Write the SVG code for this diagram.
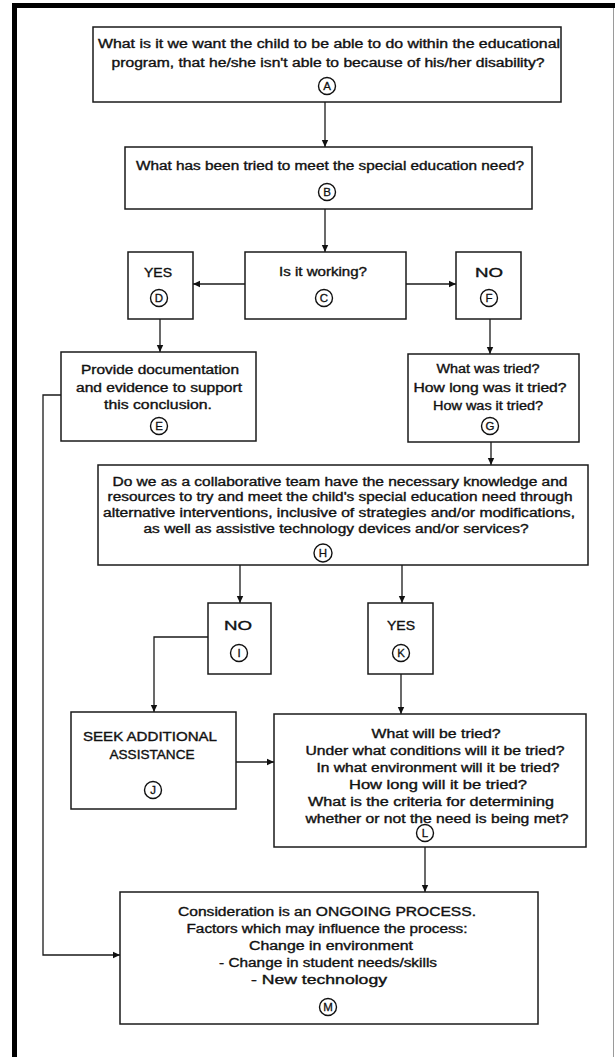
<svg xmlns="http://www.w3.org/2000/svg" width="615" height="1057" viewBox="0 0 615 1057">
  <defs>
    <style>
      .box { fill: #fff; stroke: #1a1a1a; stroke-width: 1.5; }
      .txt { font-family: "Liberation Sans", Arial, sans-serif; font-size: 12px; fill: #111; stroke: #111; stroke-width: 0.35; text-anchor: middle; }
      .lbl { font-family: "Liberation Sans", Arial, sans-serif; font-size: 11.5px; fill: #111; stroke: #111; stroke-width: 0.3; text-anchor: middle; }
      .ring { fill: none; stroke: #111; stroke-width: 1.4; }
      .wire { fill: none; stroke: #1a1a1a; stroke-width: 1.3; }
    </style>
    <marker id="arrow" markerWidth="8" markerHeight="8" refX="7" refY="4" orient="auto" markerUnits="userSpaceOnUse">
      <path d="M0,0.8 L7,4 L0,7.2 Z" fill="#111"/>
    </marker>
  </defs>

  <!-- page frame -->
  <rect x="0" y="0" width="615" height="1057" fill="#fff"/>
  <rect x="12" y="3" width="5" height="1054" fill="#000"/>
  <rect x="12" y="3" width="603" height="5" fill="#000"/>
  <line x1="613.5" y1="8" x2="613.5" y2="1057" stroke="#9a9a9a" stroke-width="1"/>

  <!-- connectors -->
  <g id="connectors">
    <line class="wire" x1="325" y1="102" x2="325" y2="147" marker-end="url(#arrow)"/>
    <line class="wire" x1="325" y1="209" x2="325" y2="252" marker-end="url(#arrow)"/>
    <line class="wire" x1="245" y1="284" x2="193" y2="284" marker-end="url(#arrow)"/>
    <line class="wire" x1="406" y1="284" x2="456" y2="284" marker-end="url(#arrow)"/>
    <line class="wire" x1="160" y1="319" x2="160" y2="352" marker-end="url(#arrow)"/>
    <line class="wire" x1="490" y1="319" x2="490" y2="354" marker-end="url(#arrow)"/>
    <line class="wire" x1="491" y1="442" x2="491" y2="465" marker-end="url(#arrow)"/>
    <polyline class="wire" points="61,395 43,395 43,955 120,955" marker-end="url(#arrow)"/>
    <line class="wire" x1="240" y1="565" x2="240" y2="603" marker-end="url(#arrow)"/>
    <line class="wire" x1="402" y1="565" x2="402" y2="603" marker-end="url(#arrow)"/>
    <polyline class="wire" points="208,637 154,637 154,712" marker-end="url(#arrow)"/>
    <line class="wire" x1="236" y1="762" x2="274" y2="762" marker-end="url(#arrow)"/>
    <line class="wire" x1="401" y1="674" x2="401" y2="714" marker-end="url(#arrow)"/>
    <line class="wire" x1="425" y1="847" x2="425" y2="892" marker-end="url(#arrow)"/>
  </g>

  <g id="node-a">
    <rect class="box" x="93" y="27" width="468" height="75"/>
    <text class="txt" x="329" y="48" textLength="462" lengthAdjust="spacingAndGlyphs">What is it we want the child to be able to do within the educational</text>
    <text class="txt" x="328" y="67" textLength="433" lengthAdjust="spacingAndGlyphs">program, that he/she isn't able to because of his/her disability?</text>
    <circle class="ring" cx="327" cy="86" r="8.5"/>
    <text class="lbl" x="327" y="90">A</text>
  </g>

  <g id="node-b">
    <rect class="box" x="125" y="147" width="407" height="62"/>
    <text class="txt" x="330" y="170" textLength="388" lengthAdjust="spacingAndGlyphs">What has been tried to meet the special education need?</text>
    <circle class="ring" cx="327" cy="192" r="8.5"/>
    <text class="lbl" x="327" y="196">B</text>
  </g>

  <g id="node-c">
    <rect class="box" x="245" y="252" width="161" height="67"/>
    <text class="txt" x="323" y="276" textLength="88" lengthAdjust="spacingAndGlyphs">Is it working?</text>
    <circle class="ring" cx="324" cy="298" r="8.5"/>
    <text class="lbl" x="324" y="302">C</text>
  </g>

  <g id="node-d">
    <rect class="box" x="128" y="252" width="65" height="67"/>
    <text class="txt" x="158" y="277" textLength="28" lengthAdjust="spacingAndGlyphs">YES</text>
    <circle class="ring" cx="159" cy="298" r="8.5"/>
    <text class="lbl" x="159" y="302">D</text>
  </g>

  <g id="node-f">
    <rect class="box" x="456" y="252" width="65" height="67"/>
    <text class="txt" x="489" y="277" textLength="28" lengthAdjust="spacingAndGlyphs">NO</text>
    <circle class="ring" cx="489" cy="298" r="8.5"/>
    <text class="lbl" x="489" y="302">F</text>
  </g>

  <g id="node-e">
    <rect class="box" x="61" y="352" width="195" height="89"/>
    <text class="txt" x="160" y="374" textLength="158" lengthAdjust="spacingAndGlyphs">Provide documentation</text>
    <text class="txt" x="159" y="392" textLength="166" lengthAdjust="spacingAndGlyphs">and evidence to support</text>
    <text class="txt" x="158" y="409" textLength="108" lengthAdjust="spacingAndGlyphs">this conclusion.</text>
    <circle class="ring" cx="159" cy="426" r="8.5"/>
    <text class="lbl" x="159" y="430">E</text>
  </g>

  <g id="node-g">
    <rect class="box" x="408" y="354" width="171" height="88"/>
    <text class="txt" x="488" y="373" textLength="103" lengthAdjust="spacingAndGlyphs">What was tried?</text>
    <text class="txt" x="490" y="392" textLength="153" lengthAdjust="spacingAndGlyphs">How long was it tried?</text>
    <text class="txt" x="488" y="410" textLength="110" lengthAdjust="spacingAndGlyphs">How was it tried?</text>
    <circle class="ring" cx="490" cy="426" r="8.5"/>
    <text class="lbl" x="490" y="430">G</text>
  </g>

  <g id="node-h">
    <rect class="box" x="98" y="465" width="490" height="100"/>
    <text class="txt" x="340" y="486" textLength="455" lengthAdjust="spacingAndGlyphs">Do we as a collaborative team have the necessary knowledge and</text>
    <text class="txt" x="340" y="501" textLength="465" lengthAdjust="spacingAndGlyphs">resources to try and meet the child's special education need through</text>
    <text class="txt" x="339" y="517" textLength="472" lengthAdjust="spacingAndGlyphs">alternative interventions, inclusive of strategies and/or modifications,</text>
    <text class="txt" x="336" y="533" textLength="385" lengthAdjust="spacingAndGlyphs">as well as assistive technology devices and/or services?</text>
    <circle class="ring" cx="323" cy="553" r="9"/>
    <text class="lbl" x="323" y="557">H</text>
  </g>

  <g id="node-i">
    <rect class="box" x="208" y="603" width="63" height="71"/>
    <text class="txt" x="238" y="630" textLength="28" lengthAdjust="spacingAndGlyphs">NO</text>
    <circle class="ring" cx="239" cy="653" r="8.5"/>
    <text class="lbl" x="239" y="657">I</text>
  </g>

  <g id="node-k">
    <rect class="box" x="368" y="603" width="65" height="71"/>
    <text class="txt" x="401" y="630" textLength="28" lengthAdjust="spacingAndGlyphs">YES</text>
    <circle class="ring" cx="401" cy="653" r="8.5"/>
    <text class="lbl" x="401" y="657">K</text>
  </g>

  <g id="node-j">
    <rect class="box" x="71" y="712" width="165" height="97"/>
    <text class="txt" x="150" y="741" textLength="134" lengthAdjust="spacingAndGlyphs">SEEK ADDITIONAL</text>
    <text class="txt" x="152" y="759" textLength="85" lengthAdjust="spacingAndGlyphs">ASSISTANCE</text>
    <circle class="ring" cx="153" cy="790" r="8.5"/>
    <text class="lbl" x="153" y="794">J</text>
  </g>

  <g id="node-l">
    <rect class="box" x="274" y="714" width="312" height="133"/>
    <text class="txt" x="436" y="738" textLength="129" lengthAdjust="spacingAndGlyphs">What will be tried?</text>
    <text class="txt" x="435" y="755" textLength="259" lengthAdjust="spacingAndGlyphs">Under what conditions will it be tried?</text>
    <text class="txt" x="438" y="772" textLength="243" lengthAdjust="spacingAndGlyphs">In what environment will it be tried?</text>
    <text class="txt" x="438" y="789" textLength="178" lengthAdjust="spacingAndGlyphs">How long will it be tried?</text>
    <text class="txt" x="431" y="806" textLength="246" lengthAdjust="spacingAndGlyphs">What is the criteria for determining</text>
    <text class="txt" x="437" y="823" textLength="263" lengthAdjust="spacingAndGlyphs">whether or not the need is being met?</text>
    <circle class="ring" cx="425" cy="833" r="8.5"/>
    <text class="lbl" x="425" y="837">L</text>
  </g>

  <g id="node-m">
    <rect class="box" x="120" y="892" width="418" height="132"/>
    <text class="txt" x="327" y="916" textLength="298" lengthAdjust="spacingAndGlyphs">Consideration is an ONGOING PROCESS.</text>
    <text class="txt" x="327" y="933" textLength="281" lengthAdjust="spacingAndGlyphs">Factors which may influence the process:</text>
    <text class="txt" x="331" y="950" textLength="164" lengthAdjust="spacingAndGlyphs">Change in environment</text>
    <text class="txt" x="328" y="967" textLength="218" lengthAdjust="spacingAndGlyphs">- Change in student needs/skills</text>
    <text class="txt" x="319" y="984" textLength="136" lengthAdjust="spacingAndGlyphs">- New technology</text>
    <circle class="ring" cx="328" cy="1007" r="8.5"/>
    <text class="lbl" x="328" y="1011">M</text>
  </g>
</svg>
